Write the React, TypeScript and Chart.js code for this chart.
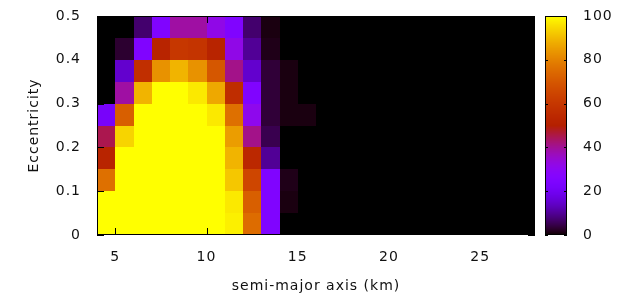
import React, { useEffect, useRef } from 'react';
import { Chart, registerables } from 'chart.js';

Chart.register(...registerables);

// Left edges of the semi-major axis bins (km), each bin 1 km wide
const semiMajorAxisKm = [4, 5, 6, 7, 8, 9, 10, 11, 12, 13, 14, 15, 16, 17, 18, 19, 20, 21, 22, 23, 24, 25, 26, 27];
const binWidthKm = 1;
// Lower edges of the eccentricity bins, each 0.05 tall
const eccentricityBins = [0, 0.05, 0.1, 0.15, 0.2, 0.25, 0.3, 0.35, 0.4, 0.45];
const binHeightEcc = 0.05;

// Percentage per cell, one array per eccentricity bin (columns follow semiMajorAxisKm)
const ecc000 = [100, 100, 100, 100, 100, 100, 100, 98, 75, 25, 0, 0, 0, 0, 0, 0, 0, 0, 0, 0, 0, 0, 0, 0];
const ecc005 = [100, 100, 100, 100, 100, 100, 100, 97, 72, 25, 1, 0, 0, 0, 0, 0, 0, 0, 0, 0, 0, 0, 0, 0];
const ecc010 = [76, 100, 100, 100, 100, 100, 100, 92, 65, 25, 1.5, 0, 0, 0, 0, 0, 0, 0, 0, 0, 0, 0, 0, 0];
const ecc015 = [52, 100, 100, 100, 100, 100, 100, 89, 54, 10, 0, 0, 0, 0, 0, 0, 0, 0, 0, 0, 0, 0, 0, 0];
const ecc020 = [45, 94, 100, 100, 100, 100, 100, 85, 41, 5, 0, 0, 0, 0, 0, 0, 0, 0, 0, 0, 0, 0, 0, 0];
const ecc025 = [22, 72, 100, 100, 100, 100, 97, 76, 31, 3.5, 1, 1, 0, 0, 0, 0, 0, 0, 0, 0, 0, 0, 0, 0];
const ecc030 = [0, 39, 89, 100, 100, 97, 87, 56, 25, 3.5, 1, 0, 0, 0, 0, 0, 0, 0, 0, 0, 0, 0, 0, 0];
const ecc035 = [0, 15, 57, 83, 89, 83, 70, 41, 15, 3.5, 1, 0, 0, 0, 0, 0, 0, 0, 0, 0, 0, 0, 0, 0];
const ecc040 = [0, 3, 25, 52, 60, 59, 52, 32, 10, 1.5, 0, 0, 0, 0, 0, 0, 0, 0, 0, 0, 0, 0, 0, 0];
const ecc045 = [0, 0, 7, 25, 39, 39, 32, 25, 7, 1, 0, 0, 0, 0, 0, 0, 0, 0, 0, 0, 0, 0, 0, 0];

const xTickValues = [5, 10, 15, 20, 25];
const yTickValues = [0, 0.1, 0.2, 0.3, 0.4, 0.5];
const cbTickValues = [0, 20, 40, 60, 80, 100];

const rows = [ecc000, ecc005, ecc010, ecc015, ecc020, ecc025, ecc030, ecc035, ecc040, ecc045];
const cells = eccentricityBins.flatMap((e, i) =>
  rows[i].map((v, j) => ({ x: semiMajorAxisKm[j], y: e, v }))
);

// gnuplot default palette: rgbformulae 7,5,15
function paletteColor(v: number): string {
  const t = Math.min(1, Math.max(0, v / 100));
  const r = Math.sqrt(t);
  const g = t * t * t;
  const b = Math.max(0, Math.sin(2 * Math.PI * t));
  return `rgb(${Math.round(r * 255)},${Math.round(g * 255)},${Math.round(b * 255)})`;
}

const font = { family: "'DejaVu Sans', sans-serif", size: 14 };
const textColor = '#111';

const spacingPlugin = {
  id: 'spacing',
  beforeLayout(chart: any) {
    chart.ctx.letterSpacing = '1px';
  },
  beforeDraw(chart: any) {
    chart.ctx.letterSpacing = '1px';
  },
};

const heatmapPlugin = {
  id: 'heatmap',
  beforeDatasetsDraw(chart: any) {
    const { ctx } = chart;
    const xs = chart.scales.x;
    const ys = chart.scales.y;
    const data = chart.data.datasets[0].data as { x: number; y: number; v: number }[];
    ctx.save();
    for (const c of data) {
      const x0 = Math.round(xs.getPixelForValue(c.x));
      const x1 = Math.round(xs.getPixelForValue(c.x + binWidthKm));
      const y0 = Math.round(ys.getPixelForValue(c.y + binHeightEcc));
      const y1 = Math.round(ys.getPixelForValue(c.y));
      ctx.fillStyle = paletteColor(c.v);
      ctx.fillRect(x0, y0, x1 - x0, y1 - y0);
    }
    ctx.restore();
  },
  afterDatasetsDraw(chart: any) {
    const { ctx, chartArea } = chart;
    const { left, right, top, bottom } = chartArea;
    const xs = chart.scales.x;
    const ys = chart.scales.y;
    const cb = chart.scales.cb;
    const tick = 7;
    ctx.save();
    ctx.strokeStyle = '#000';
    ctx.lineWidth = 1;
    ctx.strokeRect(left + 0.5, top + 0.5, right - left - 1, bottom - top - 1);
    ctx.beginPath();
    for (const v of xTickValues) {
      const px = Math.round(xs.getPixelForValue(v)) + 0.5;
      ctx.moveTo(px, bottom);
      ctx.lineTo(px, bottom - tick);
      ctx.moveTo(px, top);
      ctx.lineTo(px, top + tick);
    }
    for (const v of yTickValues) {
      const py = Math.round(ys.getPixelForValue(v)) + 0.5;
      ctx.moveTo(left, py);
      ctx.lineTo(left + tick, py);
      ctx.moveTo(right, py);
      ctx.lineTo(right - tick, py);
    }
    ctx.stroke();

    // colour box
    const bx0 = Math.round(cb.left) + 10;
    const bx1 = bx0 + 22;
    const by0 = Math.round(cb.getPixelForValue(100));
    const by1 = Math.round(cb.getPixelForValue(0));
    for (let py = by0; py < by1; py++) {
      ctx.fillStyle = paletteColor(cb.getValueForPixel(py + 0.5));
      ctx.fillRect(bx0, py, bx1 - bx0, 1);
    }
    ctx.strokeStyle = '#000';
    ctx.strokeRect(bx0 + 0.5, by0 + 0.5, bx1 - bx0 - 1, by1 - by0 - 1);
    ctx.beginPath();
    for (const v of cbTickValues) {
      const py = Math.round(cb.getPixelForValue(v)) + 0.5;
      ctx.moveTo(bx0, py);
      ctx.lineTo(bx0 + 3, py);
      ctx.moveTo(bx1, py);
      ctx.lineTo(bx1 - 3, py);
    }
    ctx.stroke();
    ctx.restore();
  },
};

const fixPaddingV = (s: any) => {
  s.paddingTop = 0;
  s.paddingBottom = 0;
};

export default function App() {
  const ref = useRef<HTMLCanvasElement | null>(null);

  useEffect(() => {
    if (!ref.current) return;
    const chart = new Chart(ref.current, {
      type: 'scatter',
      data: {
        datasets: [
          {
            label: 'survival',
            data: cells as any,
            pointRadius: 0,
            pointHoverRadius: 0,
            showLine: false,
          },
        ],
      },
      options: {
        animation: false,
        responsive: false,
        devicePixelRatio: 1,
        layout: { padding: { top: 16, left: 0, right: 0, bottom: 0 } },
        plugins: {
          legend: { display: false },
          tooltip: { enabled: false },
          title: { display: false },
        },
        events: [],
        scales: {
          x: {
            type: 'linear',
            position: 'bottom',
            min: 4,
            max: 28,
            afterBuildTicks: (s: any) => {
              s.ticks = xTickValues.map((value) => ({ value }));
            },
            afterFit: (s: any) => {
              s.height = 65;
              s.paddingLeft = 0;
              s.paddingRight = 0;
            },
            ticks: {
              autoSkip: false,
              maxRotation: 0,
              padding: 14,
              font,
              color: textColor,
              callback: (v: any) => String(v),
            },
            grid: { display: false, drawTicks: false },
            border: { display: false },
            title: {
              display: true,
              text: 'semi-major axis (km)',
              font,
              color: textColor,
              padding: { top: 0, bottom: 5 },
            },
          },
          y: {
            type: 'linear',
            position: 'left',
            min: 0,
            max: 0.5,
            afterBuildTicks: (s: any) => {
              s.ticks = yTickValues.map((value) => ({ value }));
            },
            afterFit: (s: any) => {
              s.width = 97;
              fixPaddingV(s);
            },
            ticks: {
              autoSkip: false,
              padding: 16,
              font,
              color: textColor,
              callback: (v: any) => String(v),
            },
            grid: { display: false, drawTicks: false },
            border: { display: false },
            title: {
              display: true,
              text: 'Eccentricity',
              font,
              color: textColor,
              padding: { top: 26, bottom: 0 },
            },
          },
          cb: {
            type: 'linear',
            axis: 'y',
            position: 'right',
            min: 0,
            max: 100,
            afterBuildTicks: (s: any) => {
              s.ticks = cbTickValues.map((value) => ({ value }));
            },
            afterFit: (s: any) => {
              s.width = 101;
              fixPaddingV(s);
            },
            ticks: {
              autoSkip: false,
              padding: 48,
              font,
              color: textColor,
              callback: (v: any) => String(v),
            },
            grid: { display: false, drawTicks: false },
            border: { display: false },
          },
        } as any,
      },
      plugins: [spacingPlugin, heatmapPlugin],
    });
    return () => chart.destroy();
  }, []);

  return (
    <div style={{ position: 'absolute', left: 0, top: 0, width: 636, height: 300, background: '#fff' }}>
      <canvas ref={ref} width={636} height={300} style={{ display: 'block' }} />
    </div>
  );
}
